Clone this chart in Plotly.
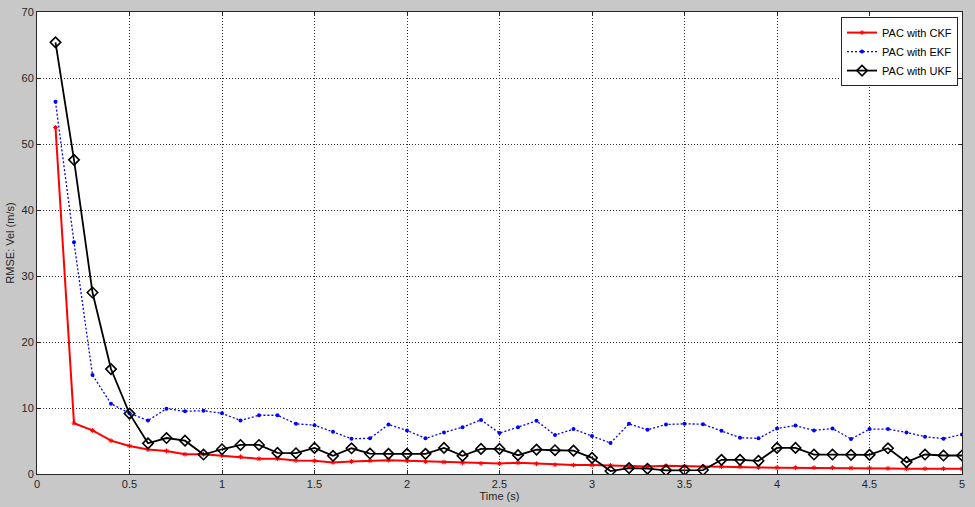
import plotly.graph_objects as go

# time axis (s)
time_s = [round(0.1 * i, 1) for i in range(1, 51)]

rmse_ckf = [
    52.5, 7.7, 6.6, 5.05, 4.25, 3.7, 3.5, 3.0, 3.0, 2.8,
    2.6, 2.3, 2.3, 2.05, 2.0, 1.75, 1.9, 2.0, 2.1, 2.0,
    1.9, 1.8, 1.7, 1.6, 1.6, 1.7, 1.55, 1.4, 1.35, 1.35,
    1.3, 1.2, 1.15, 1.25, 1.15, 1.15, 1.1, 1.1, 1.0, 0.95,
    0.95, 0.95, 0.95, 0.9, 0.9, 0.85, 0.8, 0.8, 0.8, 0.8,
]

rmse_ekf = [
    56.4, 35.1, 15.0, 10.65, 9.2, 8.1, 9.9, 9.5, 9.6, 9.2,
    8.1, 8.9, 8.9, 7.6, 7.4, 6.4, 5.35, 5.4, 7.5, 6.6,
    5.4, 6.3, 7.1, 8.2, 6.2, 7.1, 8.05, 5.9, 6.8, 5.75,
    4.7, 7.6, 6.7, 7.5, 7.6, 7.55, 6.55, 5.5, 5.4, 6.9,
    7.35, 6.6, 6.9, 5.3, 6.8, 6.8, 6.3, 5.65, 5.35, 6.0,
]

rmse_ukf = [
    65.4, 47.6, 27.5, 15.9, 9.15, 4.65, 5.45, 5.05, 2.95, 3.75,
    4.4, 4.4, 3.2, 3.15, 3.95, 2.75, 3.9, 3.1, 3.05, 3.05,
    3.05, 3.95, 2.75, 3.8, 3.8, 2.85, 3.7, 3.6, 3.55, 2.45,
    0.45, 0.9, 0.8, 0.55, 0.6, 0.6, 2.15, 2.15, 2.0, 3.95,
    3.95, 2.95, 2.95, 2.9, 2.9, 3.9, 1.8, 2.95, 2.8, 2.8,
]

x_ticks = [0, 0.5, 1, 1.5, 2, 2.5, 3, 3.5, 4, 4.5, 5]
y_ticks = [0, 10, 20, 30, 40, 50, 60, 70]

FONT = "Liberation Sans, Arial, sans-serif"

fig = go.Figure()

fig.add_trace(go.Scatter(
    x=time_s, y=rmse_ckf, name="PAC with CKF", mode="lines+markers",
    line=dict(color="#ff0000", width=2),
    marker=dict(symbol="asterisk-open", size=4, color="#ff0000",
                line=dict(color="#ff0000", width=1)),
))
fig.add_trace(go.Scatter(
    x=time_s, y=rmse_ekf, name="PAC with EKF", mode="lines+markers",
    line=dict(color="#0000ff", width=1.3, dash="2px,2px"),
    marker=dict(symbol="circle", size=4, color="#0000ff"),
))
fig.add_trace(go.Scatter(
    x=time_s, y=rmse_ukf, name="PAC with UKF", mode="lines+markers",
    line=dict(color="#000000", width=1.8),
    marker=dict(symbol="diamond-open", size=8, color="#000000",
                line=dict(color="#000000", width=1.6)),
))

axis_common = dict(
    showline=True, linecolor="#262626", linewidth=1, mirror="allticks",
    ticks="inside", ticklen=4, tickcolor="#262626",
    showgrid=True, gridcolor="#333333", gridwidth=1, griddash="1px,2px",
    zeroline=False, automargin=False,
    tickfont=dict(family=FONT, size=11, color="#262626"),
    title_font=dict(family=FONT, size=11, color="#262626"),
)

fig.update_xaxes(
    range=[0, 5], tickvals=x_ticks, title_text="Time (s)", title_standoff=0,
    **axis_common,
)
fig.update_yaxes(
    range=[0, 70], tickvals=y_ticks, title_text="RMSE: Vel (m/s)", title_standoff=4,
    **axis_common,
)

fig.update_layout(
    width=975, height=507,
    margin=dict(l=37, r=13, t=12, b=33),
    paper_bgcolor="#c8c8c8",
    plot_bgcolor="white",
    font=dict(family=FONT, size=11, color="#262626"),
    legend=dict(
        x=0.9957, y=0.989, xanchor="right", yanchor="top",
        bgcolor="white", bordercolor="#262626", borderwidth=1,
        font=dict(size=11, color="#000000"),
        tracegroupgap=0, itemsizing="trace",
    ),
    showlegend=True,
)

# drop the default page margin so the figure sits at the window's corner
fig.write_html(
    "out.html",
    config={"displayModeBar": False},
    post_script="document.body.style.margin='0';",
)
